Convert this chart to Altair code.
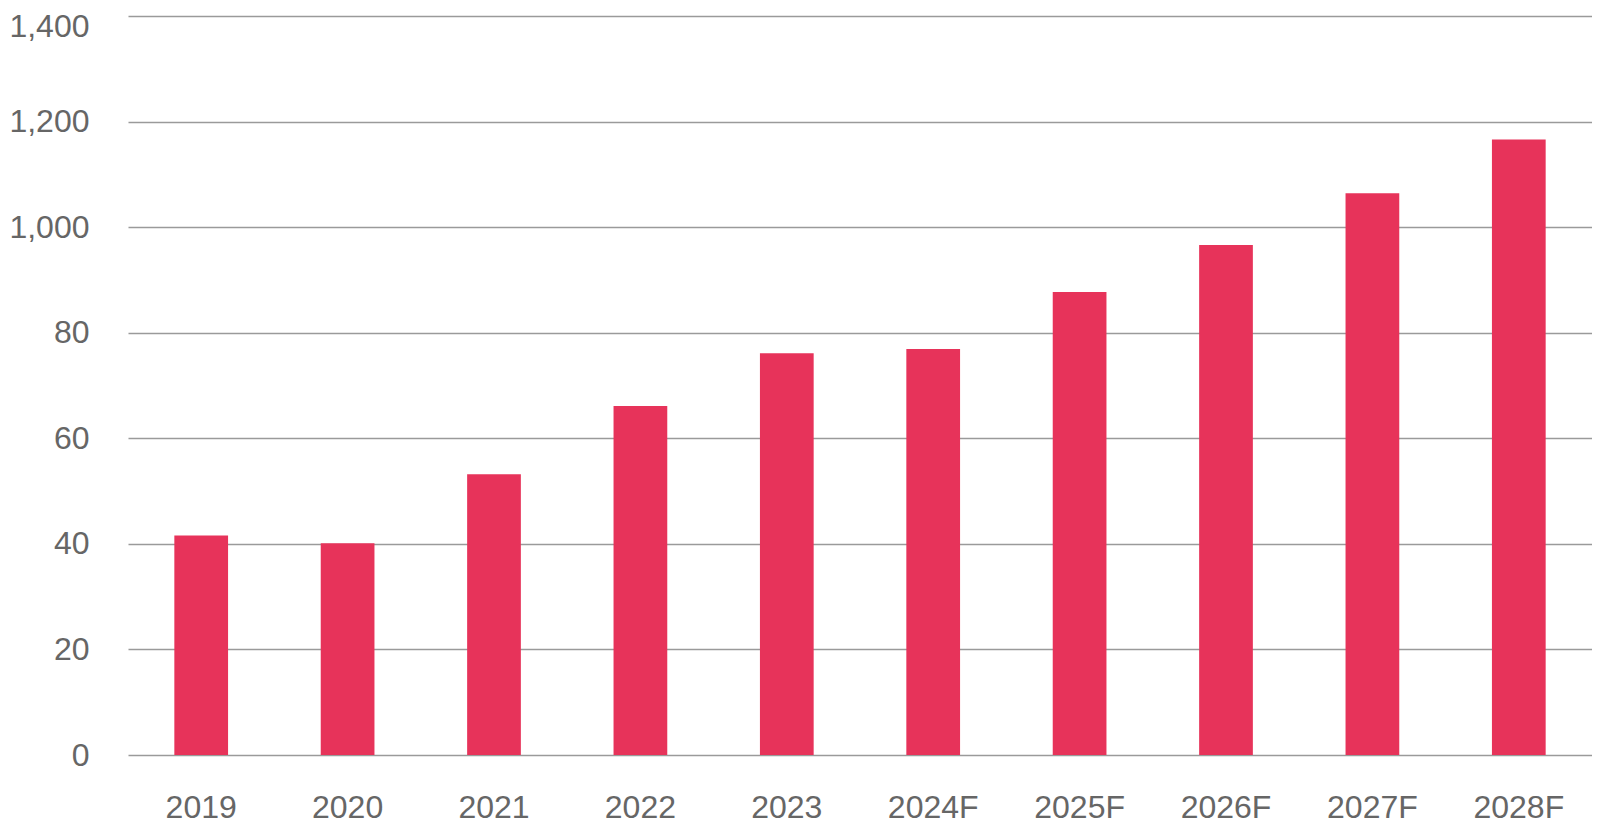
import altair as alt
import pandas as pd
import json

years = ["2019", "2020", "2021", "2022", "2023", "2024F", "2025F", "2026F", "2027F", "2028F"]
values = [416, 401, 532, 661, 761, 769, 877, 966, 1064, 1166]
tick_values = [0, 200, 400, 600, 800, 1000, 1200, 1400]
tick_labels = ["0", "20", "40", "60", "80", "1,000", "1,200", "1,400"]

df = pd.DataFrame({"year": years, "value": values})

label_expr = json.dumps(tick_labels).replace('"', "'") + "[indexof(" + json.dumps(tick_values) + ", datum.value)]"

chart = (
    alt.Chart(df)
    .mark_bar(color="#E7335A")
    .encode(
        x=alt.X(
            "year:N",
            sort=years,
            title=None,
            scale=alt.Scale(paddingInner=0.633, paddingOuter=0.3165),
            axis=alt.Axis(
                labelAngle=0,
                labelFont="Liberation Sans",
                labelFontSize=32,
                labelColor="#666666",
                labelPadding=37,
                ticks=False,
                domain=False,
                grid=False,
            ),
        ),
        y=alt.Y(
            "value:Q",
            title=None,
            scale=alt.Scale(domain=[0, 1400], nice=False),
            axis=alt.Axis(
                values=tick_values,
                labelExpr=label_expr,
                labelFont="Liberation Sans",
                labelFontSize=32,
                labelColor="#666666",
                labelPadding=39,
                labelOffset={"condition": {"test": "datum.value == 1400", "value": 10}, "value": 0},
                ticks=False,
                domain=False,
                grid=True,
                gridColor="#9a9a9a",
                gridWidth=1.3,
            ),
        ),
    )
    .properties(
        width=1464,
        height=739,
        autosize=alt.AutoSizeParams(type="none"),
        padding={"left": 120, "top": 8, "right": 0, "bottom": 72},
    )
    .configure_view(stroke=None)
    .configure_axis(gridOpacity=1)
)

chart.save("out.html", embed_options={"renderer": "svg", "actions": False})
